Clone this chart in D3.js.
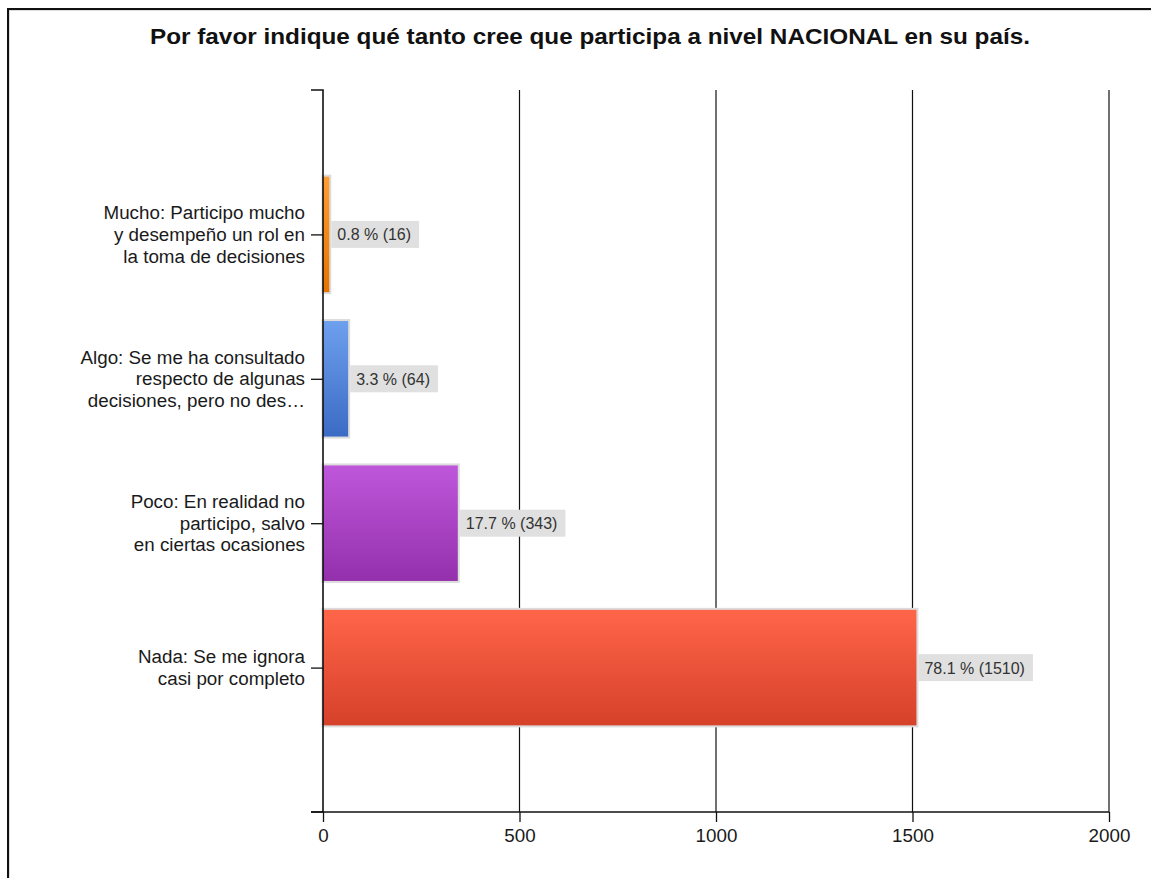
<!DOCTYPE html>
<html>
<head>
<meta charset="utf-8">
<script src="https://cdn.jsdelivr.net/npm/d3@7"></script>
<style>
  html, body { margin: 0; padding: 0; background: #fff; }
  svg { display: block; }
  text { font-family: "Liberation Sans", Arial, sans-serif; }
</style>
</head>
<body>
<svg id="chart" width="1151" height="878"></svg>
<script>
// ---- data ----
const title = "Por favor indique qué tanto cree que participa a nivel NACIONAL en su país.";
const categories = [
  "Mucho: Participo mucho\ny desempeño un rol en\nla toma de decisiones",
  "Algo: Se me ha consultado\nrespecto de algunas\ndecisiones, pero no des…",
  "Poco: En realidad no\nparticipo, salvo\nen ciertas ocasiones",
  "Nada: Se me ignora\ncasi por completo"
];
const counts = [16, 64, 343, 1510];
const percents = ["0.8", "3.3", "17.7", "78.1"];
const xTicks = [0, 500, 1000, 1500, 2000];
const colorsTop = ["#ff9d35", "#6ea0ee", "#be57da", "#ff6549"];
const colorsBottom = ["#e57300", "#3b6bc4", "#9430ac", "#d6412a"];

// ---- layout ----
const svg = d3.select("#chart");
const plotLeft = 323, plotRight = 1109, plotTop = 90, plotBottom = 812;
const step = (plotBottom - plotTop) / (categories.length + 1);

const x = d3.scaleLinear().domain([0, 2000]).range([plotLeft, plotRight]);
const y = d3.scalePoint().domain(categories)
  .range([plotTop + step, plotBottom - step]);
const barH = step * 0.8;

// frame border
svg.append("rect").attr("x", 9).attr("y", 10).attr("width", 1200).attr("height", 1000)
  .attr("fill", "none").attr("stroke", "#bbb").attr("stroke-width", 1);
svg.append("rect").attr("x", 8).attr("y", 9).attr("width", 1200).attr("height", 1000)
  .attr("fill", "none").attr("stroke", "#111").attr("stroke-width", 2);

// title
svg.append("text").attr("x", 590).attr("y", 44).attr("text-anchor", "middle")
  .attr("font-size", 22).attr("font-weight", "bold").attr("fill", "#111")
  .attr("textLength", 880).attr("lengthAdjust", "spacingAndGlyphs")
  .text(title);

// gridlines
svg.append("g").selectAll("line").data(xTicks.filter(d => d > 0)).join("line")
  .attr("x1", d => x(d)).attr("x2", d => x(d))
  .attr("y1", plotTop).attr("y2", plotBottom)
  .attr("stroke", "#111").attr("stroke-width", 1.2);

// gradients
const defs = svg.append("defs");
categories.forEach((c, i) => {
  const g = defs.append("linearGradient").attr("id", "g" + i)
    .attr("x1", 0).attr("y1", 0).attr("x2", 0).attr("y2", 1);
  g.append("stop").attr("offset", "0%").attr("stop-color", colorsTop[i]);
  g.append("stop").attr("offset", "100%").attr("stop-color", colorsBottom[i]);
});

// bars with light halo
const bars = svg.append("g");
categories.forEach((c, i) => {
  const x0 = x(0), x1 = x(counts[i]);
  const yc = y(c);
  bars.append("rect")
    .attr("x", x0 - 1.5).attr("y", yc - barH / 2 - 2)
    .attr("width", x1 - x0 + 3.5).attr("height", barH + 4)
    .attr("fill", "#dcdcdc");
  bars.append("rect")
    .attr("x", x0).attr("y", yc - barH / 2)
    .attr("width", x1 - x0).attr("height", barH)
    .attr("fill", `url(#g${i})`);
});

// value labels
const labels = svg.append("g");
categories.forEach((c, i) => {
  const yc = y(c);
  const t = labels.append("text")
    .attr("x", x(counts[i]) + 8).attr("y", yc + 6)
    .attr("font-size", 16).attr("fill", "#333")
    .text(`${percents[i]} % (${counts[i]})`);
  const bb = t.node().getBBox();
  labels.insert("rect", "text")
    .attr("x", x(counts[i]) + 2).attr("y", yc - 13.5)
    .attr("width", bb.width + 14).attr("height", 27)
    .attr("fill", "#e0e0e0");
});

// left axis
const yAxis = d3.axisLeft(y).tickSize(12).tickSizeOuter(12).tickFormat("");
const ya = svg.append("g").attr("transform", `translate(${plotLeft},0)`).call(yAxis);
ya.select(".domain").attr("stroke", "#111").attr("stroke-width", 1.6);
ya.selectAll(".tick line").attr("stroke", "#111").attr("stroke-width", 1.3);
// domain path spans the full plot height
ya.select(".domain").attr("d", `M-12,${plotTop}H0V${plotBottom}H-12`);

// category labels
categories.forEach(c => {
  const lines = c.split("\n");
  const lh = 21.7;
  const yc = y(c);
  const t = svg.append("text").attr("text-anchor", "end")
    .attr("font-size", 18.8).attr("fill", "#1a1a1a");
  lines.forEach((ln, k) => {
    t.append("tspan").attr("x", 305)
      .attr("y", yc + 6.5 + (k - (lines.length - 1) / 2) * lh)
      .text(ln);
  });
});

// bottom axis
const xAxis = d3.axisBottom(x).tickValues(xTicks).tickSize(10).tickSizeOuter(0)
  .tickFormat(d3.format("d"));
const xa = svg.append("g").attr("transform", `translate(0,${plotBottom})`).call(xAxis);
xa.select(".domain").attr("d", `M${plotLeft - 12},0H${plotRight}`)
  .attr("stroke", "#111").attr("stroke-width", 1.6);
xa.selectAll(".tick line").attr("stroke", "#111").attr("stroke-width", 1.3);
xa.selectAll(".tick text").attr("font-size", 18.8).attr("fill", "#1a1a1a")
  .attr("dy", null).attr("y", 30)
  .style("font-family", "'Liberation Sans', Arial, sans-serif");
</script>
</body>
</html>
